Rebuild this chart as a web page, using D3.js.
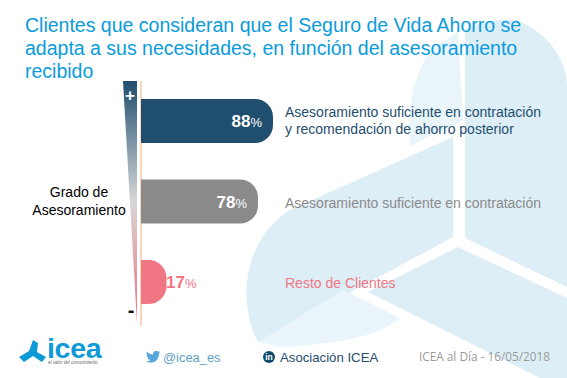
<!DOCTYPE html>
<html>
<head>
<meta charset="utf-8">
<script src="https://d3js.org/d3.v7.min.js"></script>
<style>
body { margin: 0; background: #fff; }
svg { display: block; }
text { font-family: "Liberation Sans", Arial, sans-serif; }
</style>
</head>
<body>
<script>
//values
var categories = ["suficiente y posterior", "suficiente", "resto"];
var values = [88, 78, 17];
var barColors = ["#1f4e6e", "#8a8a8a", "#f07684"];
var labelColors = ["#1f4e6e", "#8a8a8a", "#f07684"];
var labelLines = [
    ["Asesoramiento suficiente en contratación", "y recomendación de ahorro posterior"],
    ["Asesoramiento suficiente en contratación"],
    ["Resto de Clientes"]
];
var titleLines = [
    "Clientes que consideran que el Seguro de Vida Ahorro se",
    "adapta a sus necesidades, en función del asesoramiento",
    "recibido"
];

var width = 567,
    height = 378;

var svg = d3.select("body")
    .append("svg")
    .attr("width", width)
    .attr("height", height);

var x = d3.scaleLinear().domain([0, 100]).range([141, 291]);
var y = d3.scaleBand().domain(categories).range([99, 304]).paddingInner(0.453);

setWatermark();
setTitle();
setScaleWedge();
setBars();
setFooter();

//big pale logo behind the chart
function setWatermark(){
    var dark = "#ddeef7",
        light = "#e9f5fb";

    var shapes = [
        ["M465,30 C480,22 497,18 516,20 C548,32 567,60 567,87 L567,287 L465,238 Z", dark],
        ["M458,32 L463,120 L410,146 C408,110 410,85 430,50 Z", light],
        ["M453,137 L453,237 L258,342 C246,320 244,290 249,270 C254,245 270,222 290,210 Z", dark],
        ["M343,290 L400,318 C375,340 320,345 280,347 L258,342 Z", light],
        ["M458,247 L567,298 L567,378 L540,378 L368,292 Z", dark]
    ];

    svg.append("g")
        .attr("class", "watermark")
        .selectAll("path")
        .data(shapes)
        .enter()
        .append("path")
        .attr("d", function(d){ return d[0]; })
        .style("fill", function(d){ return d[1]; });
}

function setTitle(){
    svg.selectAll(".title")
        .data(titleLines)
        .enter()
        .append("text")
        .attr("class", "title")
        .attr("x", 25)
        .attr("y", function(d, i){ return 31.5 + i * 23.3; })
        .style("font-size", "19.5px")
        .style("fill", "#0a9bdc")
        .text(function(d){ return d; });
}

//the tapered + / - bar on the left
function setScaleWedge(){
    var grad = svg.append("defs")
        .append("linearGradient")
        .attr("id", "wedge")
        .attr("x1", 0).attr("y1", 0)
        .attr("x2", 0).attr("y2", 1);

    grad.append("stop").attr("offset", "0%").attr("stop-color", "#1f4e6e");
    grad.append("stop").attr("offset", "50%").attr("stop-color", "#d8d8d8");
    grad.append("stop").attr("offset", "100%").attr("stop-color", "#ee6a7c");

    svg.append("path")
        .attr("d", "M123,81 L137,81 L137,323 Z")
        .style("fill", "url(#wedge)");

    svg.append("line")
        .attr("x1", 141).attr("x2", 141)
        .attr("y1", 81).attr("y2", 326)
        .style("stroke", "#f6c9a4")
        .style("stroke-width", 1.5);

    svg.append("text")
        .attr("x", 130).attr("y", 101)
        .attr("text-anchor", "middle")
        .style("font-size", "17px")
        .style("font-weight", "bold")
        .style("fill", "#fff")
        .text("+");

    svg.append("text")
        .attr("x", 131).attr("y", 317)
        .attr("text-anchor", "middle")
        .style("font-size", "20px")
        .style("font-weight", "bold")
        .style("fill", "#111")
        .text("-");

    svg.selectAll(".axisName")
        .data(["Grado de", "Asesoramiento"])
        .enter()
        .append("text")
        .attr("class", "axisName")
        .attr("x", 79)
        .attr("y", function(d, i){ return 197 + i * 17.5; })
        .attr("text-anchor", "middle")
        .style("font-size", "14px")
        .style("fill", "#000")
        .text(function(d){ return d; });
}

function barPath(d, i){
    var x0 = x(0),
        x1 = x(d),
        y0 = y(categories[i]),
        h = y.bandwidth(),
        r = 18;
    return "M" + x0 + "," + y0 +
        "H" + (x1 - r) +
        "A" + r + "," + r + " 0 0 1 " + x1 + "," + (y0 + r) +
        "V" + (y0 + h - r) +
        "A" + r + "," + r + " 0 0 1 " + (x1 - r) + "," + (y0 + h) +
        "H" + x0 + "Z";
}

function setBars(){
    svg.selectAll(".bar")
        .data(values)
        .enter()
        .append("path")
        .attr("class", "bar")
        .attr("d", barPath)
        .style("fill", function(d, i){ return barColors[i]; });

    //value labels, inside the bar unless the bar is too short
    var valueLabels = svg.selectAll(".valueLabel")
        .data(values)
        .enter()
        .append("text")
        .attr("class", "valueLabel")
        .attr("x", function(d){ return d > 30 ? x(d) - 11 : x(d) + 30; })
        .attr("y", function(d, i){ return y(categories[i]) + y.bandwidth() / 2 + 6; })
        .attr("text-anchor", "end")
        .style("fill", function(d){ return d > 30 ? "#fff" : "#f07684"; });

    valueLabels.append("tspan")
        .style("font-size", "17px")
        .style("font-weight", "bold")
        .text(function(d){ return d; });

    valueLabels.append("tspan")
        .style("font-size", "13px")
        .text("%");

    var groups = svg.selectAll(".barLabel")
        .data(labelLines)
        .enter()
        .append("text")
        .attr("class", "barLabel")
        .style("font-size", "14px")
        .style("fill", function(d, i){ return labelColors[i]; });

    groups.selectAll("tspan")
        .data(function(d, i){
            return d.map(function(line, k){
                return {line: line, k: k, n: d.length, cat: categories[i]};
            });
        })
        .enter()
        .append("tspan")
        .attr("x", 285)
        .attr("y", function(d){
            var offset = d.n > 1 ? 4 : 6;
            return y(d.cat) + y.bandwidth() / 2 + offset + (d.k - (d.n - 1) / 2) * 17;
        })
        .text(function(d){ return d.line; });
}

function setFooter(){
    //small logo
    var logo = svg.append("g").attr("class", "logo").style("fill", "#0e9ad7");
    logo.append("path").attr("d", "M33,340 L38,343 L37,352 L46,357 L42,362 L33,356 L24,362 L19,357 L29,351 Z");
    logo.append("text")
        .attr("x", 47).attr("y", 358)
        .style("font-size", "28.5px")
        .style("font-weight", "bold")
        .style("letter-spacing", "-0.3px")
        .text("icea");
    logo.append("text")
        .attr("x", 48).attr("y", 364)
        .style("font-size", "4.5px")
        .style("font-style", "italic")
        .style("fill", "#666")
        .text("el valor del conocimiento");

    //twitter
    svg.append("path")
        .attr("transform", "translate(146,349.5) scale(0.6)")
        .attr("d", "M23.953 4.57a10 10 0 01-2.825.775 4.958 4.958 0 002.163-2.723c-.951.555-2.005.959-3.127 1.184a4.92 4.92 0 00-8.384 4.482C7.69 8.095 4.067 6.13 1.64 3.162a4.822 4.822 0 00-.666 2.475c0 1.71.87 3.213 2.188 4.096a4.904 4.904 0 01-2.228-.616v.06a4.923 4.923 0 003.946 4.827 4.996 4.996 0 01-2.212.085 4.936 4.936 0 004.604 3.417 9.867 9.867 0 01-6.102 2.105c-.39 0-.779-.023-1.17-.067a13.995 13.995 0 007.557 2.209c9.053 0 13.998-7.496 13.998-13.985 0-.21 0-.42-.015-.63A9.935 9.935 0 0024 4.59z")
        .style("fill", "#55a6dc");

    svg.append("text")
        .attr("x", 163).attr("y", 362)
        .style("font-size", "12.9px")
        .style("fill", "#5d9fc6")
        .text("@icea_es");

    //linkedin
    svg.append("circle")
        .attr("cx", 269).attr("cy", 357).attr("r", 6)
        .style("fill", "#0f4a6b");
    svg.append("text")
        .attr("x", 269).attr("y", 360)
        .attr("text-anchor", "middle")
        .style("font-size", "8.5px")
        .style("font-weight", "bold")
        .style("fill", "#fff")
        .text("in");

    svg.append("text")
        .attr("x", 280).attr("y", 362)
        .style("font-size", "13.2px")
        .style("fill", "#1f4e6e")
        .text("Asociación ICEA");

    svg.append("text")
        .attr("x", 419).attr("y", 361)
        .style("font-family", "'Open Sans', sans-serif")
        .style("font-size", "11.8px")
        .style("fill", "#9a9a9a")
        .text("ICEA al Día - 16/05/2018");
}
</script>
</body>
</html>
